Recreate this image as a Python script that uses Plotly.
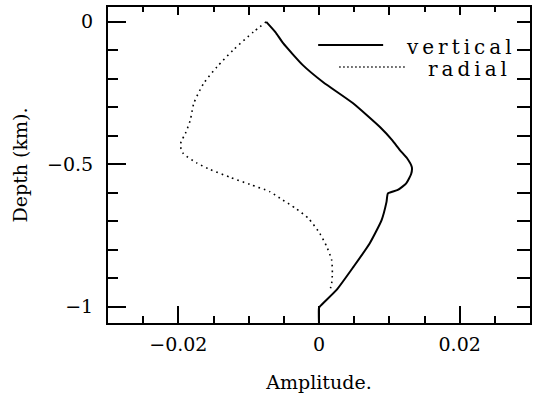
import plotly.graph_objects as go

# ---- data ----
vertical_amp = [-0.0075, -0.0062, -0.0051, -0.0023, 0.0006, 0.0048, 0.0087, 0.0104,
                0.0115, 0.0125, 0.0132, 0.0131, 0.0124, 0.0112, 0.0098, 0.0096,
                0.0089, 0.0072, 0.0049, 0.0025, 0.0002, 0.0, 0.0]
vertical_depth = [0.0, -0.036, -0.075, -0.152, -0.212, -0.285, -0.370, -0.415,
                  -0.450, -0.478, -0.510, -0.534, -0.567, -0.590, -0.602, -0.632,
                  -0.696, -0.778, -0.86, -0.941, -0.997, -1.004, -1.06]

radial_amp = [-0.0075, -0.0093, -0.0122, -0.0145, -0.0164, -0.0178, -0.0183, -0.0190,
              -0.0196, -0.0197, -0.0193, -0.0174, -0.0155, -0.0126, -0.0098, -0.0070,
              -0.0055, -0.0033, -0.0015, 0.0001, 0.0011, 0.0018, 0.0019, 0.0018, 0.0015]
radial_depth = [0.0, -0.035, -0.099, -0.158, -0.216, -0.286, -0.345, -0.392,
                -0.420, -0.437, -0.462, -0.495, -0.518, -0.546, -0.571, -0.596,
                -0.620, -0.655, -0.690, -0.742, -0.789, -0.836, -0.883, -0.918, -0.947]

x_tickvals = [-0.02, 0, 0.02]
x_ticktext = ["\u22120.02", "0", "0.02"]
y_tickvals = [-1, -0.5, 0]
y_ticktext = ["\u22121", "\u22120.5", "0"]
series_names = ["vertical", "radial"]

XR = [-0.03, 0.03]
YR = [-1.057, 0.052]
FONT = "DejaVu Serif"

fig = go.Figure()
fig.add_trace(go.Scatter(x=vertical_amp, y=vertical_depth, mode="lines",
                         line=dict(color="black", width=2, shape="spline", smoothing=0.5),
                         name=series_names[0], showlegend=False))
fig.add_trace(go.Scatter(x=radial_amp, y=radial_depth, mode="lines",
                         line=dict(color="black", width=1.6, dash="1.6px,4px",
                                   shape="spline", smoothing=0.6),
                         name=series_names[1], xaxis="x2", yaxis="y2", showlegend=False))

# manual legend (sample lines + labels)
def spaced(s):
    return "\u2009".join(s)

fig.add_shape(type="line", xref="paper", yref="paper", x0=0.498, x1=0.652, y0=0.880, y1=0.880,
              line=dict(color="black", width=2))
fig.add_shape(type="line", xref="paper", yref="paper", x0=0.548, x1=0.703, y0=0.810, y1=0.810,
              line=dict(color="black", width=1.4, dash="1.4px,2.6px"))
fig.add_annotation(x=0.963, y=0.873, xref="paper", yref="paper", text=spaced(series_names[0]),
                   showarrow=False, xanchor="right", yanchor="middle",
                   font=dict(family=FONT, size=20, color="black"))
fig.add_annotation(x=0.951, y=0.804, xref="paper", yref="paper", text=spaced(series_names[1]),
                   showarrow=False, xanchor="right", yanchor="middle",
                   font=dict(family=FONT, size=20, color="black"))

tickfont = dict(family=FONT, size=19, color="black")
fig.update_layout(
    width=541, height=396,
    margin=dict(l=108, r=11, t=7, b=73),
    paper_bgcolor="white", plot_bgcolor="white",
    xaxis=dict(range=XR, tickmode="array", tickvals=x_tickvals, ticktext=x_ticktext,
               ticks="inside", ticklen=17, tickwidth=2, tickcolor="black",
               minor=dict(dtick=0.005, tick0=0, ticks="inside", ticklen=7, tickwidth=1.5,
                          tickcolor="black", showgrid=False),
               showline=True, linecolor="black", linewidth=2, showgrid=False, zeroline=False,
               tickfont=tickfont, ticklabelstandoff=3,
               title=dict(text="Amplitude.", font=dict(family=FONT, size=19, color="black"),
                          standoff=22),
               automargin=False),
    xaxis2=dict(range=XR, overlaying="x", side="top", anchor="y", dtick=0.01, tick0=0,
                ticks="inside", ticklen=8, tickwidth=2, tickcolor="black",
                minor=dict(dtick=0.005, tick0=0, ticks="inside", ticklen=5, tickwidth=1.5,
                           tickcolor="black", showgrid=False),
                showline=True, linecolor="black", linewidth=2, showgrid=False, zeroline=False,
                showticklabels=False),
    yaxis=dict(range=YR, tickmode="array", tickvals=y_tickvals, ticktext=y_ticktext,
               ticks="inside", ticklen=18, tickwidth=2, tickcolor="black",
               minor=dict(dtick=0.1, tick0=0, ticks="inside", ticklen=10, tickwidth=2,
                          tickcolor="black", showgrid=False),
               showline=True, linecolor="black", linewidth=2, showgrid=False, zeroline=False,
               tickfont=tickfont, ticklabelstandoff=9,
               title=dict(text="Depth (km).", font=dict(family=FONT, size=19, color="black"),
                          standoff=14),
               automargin=False),
    yaxis2=dict(range=YR, overlaying="y", side="right", anchor="x", dtick=0.1, tick0=0,
                ticks="inside", ticklen=13, tickwidth=2, tickcolor="black",
                showline=True, linecolor="black", linewidth=2, showgrid=False, zeroline=False,
                showticklabels=False),
)

fig.write_html("out.html")
